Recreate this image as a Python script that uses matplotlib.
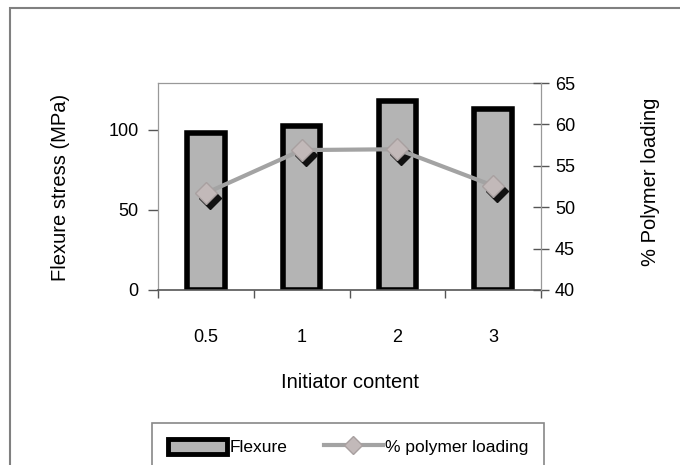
import numpy as np
import matplotlib
matplotlib.use("Agg")
import matplotlib.pyplot as plt
import matplotlib.transforms as mtransforms
from matplotlib.patches import Rectangle

plt.rcParams['font.family'] = ['Liberation Sans', 'DejaVu Sans']

# data
categories = ['0.5', '1', '2', '3']
flexure = [98, 102, 118, 113]          # MPa, left axis
polymer_loading = [51.7, 56.9, 57.0, 52.6]  # %, right axis

left_ticks = [0, 50, 100]
right_ticks = [40, 45, 50, 55, 60, 65]

fig = plt.figure(figsize=(6.8, 4.65), dpi=100)
ax = fig.add_axes([158/680, 1-290/465, (541-158)/680, (290-83)/465])
ax2 = ax.twinx()

x = np.arange(len(categories))
bar_fill = '#b4b4b4'
line_col = '#a3a3a3'

ax.bar(x, flexure, width=0.39, color=bar_fill, edgecolor='black', linewidth=4, zorder=2)
ax.set_xlim(-0.5, len(categories)-0.5)
ax.set_ylim(0, 129)
ax.set_yticks(left_ticks)
ax.tick_params(axis='y', direction='out', length=7, width=1, color='#555555',
               labelsize=13, pad=7)

# ticks between categories, labels at the centres
ax.set_xticks(np.arange(len(categories)+1) - 0.5)
ax.set_xticklabels([])
ax.set_xticks(x, minor=True)
ax.set_xticklabels(categories, minor=True)
ax.tick_params(axis='x', which='major', direction='out', length=6, width=1, color='#555555')
ax.tick_params(axis='x', which='minor', length=0, labelsize=13, pad=28)

for s in ['top', 'left']:
    ax.spines[s].set_color('#999999')
    ax.spines[s].set_linewidth(0.9)
ax.spines['bottom'].set_color('#555555')
ax.spines['bottom'].set_linewidth(1.2)
ax.spines['right'].set_visible(False)

# polymer loading line with shadowed diamonds
shadow = mtransforms.offset_copy(ax2.transData, fig=fig, x=4, y=-5, units='dots')
ax2.plot(x, polymer_loading, linestyle='none', marker='D', markersize=11,
         color='#111111', transform=shadow, zorder=3)
ax2.plot(x, polymer_loading, color=line_col, linewidth=3, marker='D', markersize=11,
         markerfacecolor='#c2b9b9', markeredgecolor='#a8a0a0', zorder=4)
ax2.set_ylim(40, 65)
ax2.set_yticks(right_ticks)
ax2.tick_params(axis='y', direction='inout', length=12, width=1, color='#555555',
                labelsize=13, pad=4)
for s in ['top', 'left', 'bottom']:
    ax2.spines[s].set_visible(False)
ax2.spines['right'].set_color('#999999')
ax2.spines['right'].set_linewidth(0.9)
ax.set_zorder(1)
ax2.set_zorder(2)
ax.patch.set_visible(False)

fig.text(60/680, 1-187/465, 'Flexure stress (MPa)', rotation=90, ha='center', va='center', fontsize=14.5)
fig.text(650/680, 1-182/465, '% Polymer loading', rotation=90, ha='center', va='center', fontsize=14.5)
fig.text(350/680, 1-382/465, 'Initiator content', ha='center', va='center', fontsize=14.5)

# outer frame of the chart
fig.patches.append(Rectangle((10/680, -0.1), 1.2, (465-8)/465 + 0.1, transform=fig.transFigure,
                             fill=False, edgecolor='#808080', linewidth=1.5))

# legend
h_bar = Rectangle((0, 0), 1, 1, facecolor=bar_fill, edgecolor='black', linewidth=3.5)
h_line = plt.Line2D([], [], color=line_col, linewidth=3, marker='D', markersize=9,
                    markerfacecolor='#c2b9b9', markeredgecolor='#a8a0a0')
leg = fig.legend([h_bar, h_line], ['Flexure', '% polymer loading'], ncol=2,
                 loc='upper left', bbox_to_anchor=(152/680, 1-423/465),
                 fontsize=12.5, fancybox=False, edgecolor='#888888', framealpha=1,
                 borderpad=0.9, handlelength=3.4, handleheight=1.0, columnspacing=2.1,
                 handletextpad=0.15, borderaxespad=0)
leg.get_frame().set_linewidth(1.2)

fig.savefig('out.png', dpi=100)
